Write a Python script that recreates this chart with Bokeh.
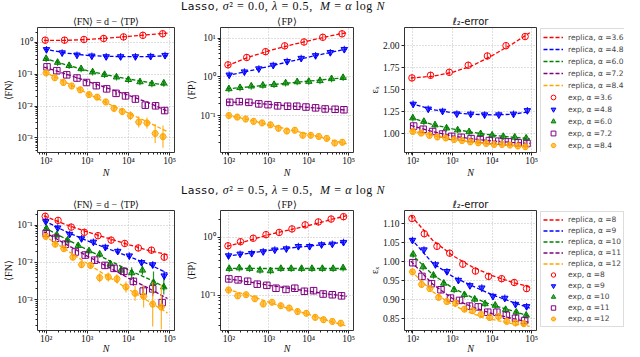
import math
from bokeh.plotting import figure
from bokeh.layouts import row, column
from bokeh.models import (Range1d, FixedTicker, Legend, LegendItem, Div, Spacer,
                          CustomJSTickFormatter, PrintfTickFormatter)
from bokeh.embed import file_html
from bokeh.resources import INLINE

SERIF = "Liberation Serif"
SANS = "DejaVu Sans"

COLORS = ["red", "blue", "green", "purple", "orange"]
MARKERS = ["circle", "inverted_triangle", "triangle", "square", "hex"]
FILLED = [False, True, True, False, True]

X_RANGE = (10 ** 1.79, 10 ** 5.12)
X_TICKS = [1e2, 1e3, 1e4, 1e5]

# N positions at which the replica curves were read
LINE_N = [89, 316, 1000, 3162, 10000, 31623, 89125]

# ---------------- top row: sigma^2 = 0.0 ----------------
TOP_ALPHA = ["3.6", "4.8", "6.0", "7.2", "8.4"]
TOP_N = [
    [95, 280, 830, 2500, 7600, 22400, 68000],
    [102, 245, 562, 1290, 2880, 6460, 14800, 34700, 77600],
    [100, 190, 363, 708, 1350, 2630, 5130, 10000, 19100, 37200, 72400],
    [105, 182, 316, 562, 955, 1660, 2950, 5010, 8510, 14800, 25700, 45700, 75900],
    [100, 162, 263, 417, 676, 1100, 1740, 2820, 4470, 7080, 11200, 17800, 28200, 44700, 69200],
]
TOP_FN_EXP = [
    [1.17, 1.17, 1.23, 1.32, 1.48, 1.66, 1.86],
    [0.596, 0.473, 0.403, 0.376, 0.357, 0.357, 0.357, 0.365, 0.392],
    [0.309, 0.234, 0.186, 0.148, 0.117, 0.0977, 0.0813, 0.0676, 0.0575, 0.0501, 0.0525],
    [0.170, 0.129, 0.0955, 0.0759, 0.0550, 0.0437, 0.0347, 0.0251, 0.0209, 0.0166, 0.0107, 0.0102, 0.00724],
    [0.110, 0.0776, 0.0550, 0.0427, 0.0324, 0.0229, 0.0191, 0.0135, 0.00851, 0.00676, 0.00501, 0.00316, 0.00295, 0.00138, 0.00110],
]
# error bar half-widths in decades
TOP_FN_ERR = [
    [0.01, 0.01, 0.01, 0.01, 0.01, 0.01, 0.01],
    [0.02, 0.02, 0.02, 0.02, 0.02, 0.02, 0.02, 0.02, 0.02],
    [0.02, 0.02, 0.02, 0.02, 0.03, 0.03, 0.03, 0.04, 0.04, 0.05, 0.05],
    [0.02, 0.02, 0.03, 0.03, 0.03, 0.04, 0.04, 0.05, 0.05, 0.06, 0.07, 0.08, 0.09],
    [0.02, 0.02, 0.03, 0.03, 0.04, 0.04, 0.05, 0.06, 0.10, 0.12, 0.14, 0.17, 0.17, 0.30, 0.35],
]
TOP_FN_REP = [
    [1.16, 1.16, 1.23, 1.36, 1.53, 1.74, 1.95],
    [0.617, 0.457, 0.389, 0.363, 0.355, 0.359, 0.380],
    [0.316, 0.195, 0.129, 0.0933, 0.0708, 0.0550, 0.0437],
    [0.166, 0.100, 0.0603, 0.0363, 0.0219, 0.0126, 0.00692],
    [0.120, 0.0537, 0.0251, 0.0120, 0.00603, 0.00302, 0.00158],
]
TOP_FP_EXP = [
    [2.04, 3.16, 4.47, 6.31, 7.94, 10.5, 12.9],
    [1.12, 1.35, 1.62, 2.0, 2.51, 3.02, 3.55, 4.27, 5.13],
    [0.490, 0.525, 0.575, 0.603, 0.631, 0.692, 0.741, 0.759, 0.794, 0.891, 0.955],
    [0.219, 0.229, 0.219, 0.200, 0.191, 0.178, 0.174, 0.174, 0.166, 0.158, 0.148, 0.145, 0.141],
    [0.100, 0.0912, 0.0813, 0.0708, 0.0646, 0.0575, 0.0468, 0.0398, 0.0417, 0.0309, 0.0309, 0.0288, 0.0257, 0.0195, 0.0204],
]
TOP_FP_REP = [
    [1.91, 3.24, 4.68, 6.46, 8.51, 11.2, 13.8],
    [1.07, 1.41, 1.86, 2.45, 3.24, 4.17, 5.25],
    [0.490, 0.550, 0.617, 0.692, 0.776, 0.871, 0.955],
    [0.224, 0.214, 0.195, 0.178, 0.162, 0.148, 0.138],
    [0.102, 0.0776, 0.0575, 0.0437, 0.0331, 0.0245, 0.0186],
]
TOP_L2_EXP = [
    [1.636, 1.666, 1.70, 1.78, 1.886, 2.003, 2.107],
    [1.338, 1.283, 1.258, 1.228, 1.225, 1.217, 1.217, 1.225, 1.265],
    [1.18, 1.14, 1.10, 1.065, 1.043, 1.022, 1.0, 0.984, 0.969, 0.96, 0.95],
    [1.088, 1.052, 1.026, 0.997, 0.971, 0.96, 0.945, 0.934, 0.923, 0.916, 0.908, 0.897, 0.89],
    [1.026, 1.008, 0.982, 0.964, 0.953, 0.934, 0.923, 0.908, 0.897, 0.89, 0.879, 0.879, 0.872, 0.861, 0.853],
]
TOP_L2_REP = [
    [1.635, 1.655, 1.70, 1.775, 1.89, 2.02, 2.15],
    [1.345, 1.275, 1.24, 1.222, 1.215, 1.222, 1.25],
    [1.185, 1.105, 1.055, 1.017, 0.985, 0.962, 0.945],
    [1.095, 1.025, 0.975, 0.942, 0.918, 0.902, 0.89],
    [1.035, 0.98, 0.937, 0.905, 0.88, 0.865, 0.85],
]

# ---------------- bottom row: sigma^2 = 0.5 ----------------
BOT_ALPHA = ["8", "9", "10", "11", "12"]
BOT_N = [
    [95, 195, 407, 851, 1820, 3800, 8130, 17400, 36300, 74100],
    [98, 191, 372, 724, 1410, 2750, 5500, 10500, 20900, 38900, 74100],
    [102, 182, 331, 603, 1100, 2000, 3630, 6610, 12000, 21900, 40700, 72400],
    [100, 170, 295, 513, 891, 1510, 2690, 4470, 7760, 13200, 22900, 38900, 66100],
    [98, 166, 269, 447, 724, 1200, 2000, 3240, 5250, 8710, 14500, 23400, 38900, 63100],
]
BOT_FN_EXP = [
    [0.174, 0.135, 0.0891, 0.0646, 0.0525, 0.0398, 0.0324, 0.0245, 0.0214, 0.0138],
    [0.126, 0.0851, 0.0575, 0.0437, 0.0355, 0.0257, 0.0200, 0.0151, 0.0100, 0.00871, 0.00437],
    [0.0813, 0.0550, 0.0398, 0.0282, 0.0204, 0.0166, 0.00912, 0.00617, 0.00525, 0.00617, 0.00288, 0.00219],
    [0.0603, 0.0447, 0.0309, 0.0191, 0.0158, 0.0115, 0.00832, 0.00692, 0.00575, 0.00309, 0.00170, 0.00195, 0.000832],
    [0.0501, 0.0309, 0.0234, 0.0138, 0.00871, 0.00832, 0.00389, 0.00407, 0.00363, 0.00219, 0.00148, 0.00123, 0.000759, 0.000631],
]
BOT_FN_ERR = [
    [0.02, 0.02, 0.02, 0.02, 0.02, 0.03, 0.03, 0.03, 0.04, 0.06],
    [0.02, 0.02, 0.03, 0.03, 0.03, 0.04, 0.04, 0.05, 0.07, 0.08, 0.12],
    [0.03, 0.03, 0.03, 0.04, 0.04, 0.05, 0.10, 0.10, 0.15, 0.12, 0.30, 0.20],
    [0.03, 0.03, 0.04, 0.05, 0.05, 0.06, 0.08, 0.10, 0.12, 0.12, 0.15, 0.20, 0.20],
    [0.03, 0.03, 0.04, 0.06, 0.08, 0.08, 0.12, 0.12, 0.12, 0.15, 0.20, 0.30, 0.60, 0.60],
]
BOT_FN_REP = [
    [0.178, 0.102, 0.0661, 0.0447, 0.0302, 0.0209, 0.0162],
    [0.132, 0.0661, 0.0380, 0.0234, 0.0145, 0.00891, 0.00513],
    [0.0871, 0.0417, 0.0219, 0.0117, 0.00631, 0.00355, 0.00200],
    [0.0661, 0.0302, 0.0148, 0.00759, 0.00380, 0.00200, 0.00107],
    [0.0525, 0.0214, 0.00933, 0.00417, 0.00191, 0.000891, 0.000437],
]
BOT_FP_EXP = [
    [0.708, 0.832, 0.955, 1.10, 1.20, 1.38, 1.62, 1.82, 2.04, 2.24],
    [0.479, 0.513, 0.525, 0.562, 0.603, 0.631, 0.692, 0.692, 0.741, 0.759, 0.813],
    [0.288, 0.295, 0.288, 0.269, 0.263, 0.288, 0.288, 0.288, 0.288, 0.288, 0.288, 0.295],
    [0.191, 0.184, 0.174, 0.155, 0.148, 0.132, 0.126, 0.132, 0.117, 0.120, 0.105, 0.102, 0.0977],
    [0.123, 0.0977, 0.102, 0.0871, 0.0708, 0.0759, 0.0661, 0.0603, 0.0525, 0.0490, 0.0417, 0.0380, 0.0355, 0.0331],
]
BOT_FP_REP = [
    [0.692, 0.871, 1.10, 1.32, 1.58, 1.95, 2.34],
    [0.468, 0.525, 0.589, 0.646, 0.700, 0.759, 0.832],
    [0.290, 0.289, 0.288, 0.288, 0.288, 0.288, 0.288],
    [0.191, 0.170, 0.148, 0.132, 0.117, 0.105, 0.0955],
    [0.126, 0.100, 0.0759, 0.0589, 0.0468, 0.0363, 0.0295],
]
BOT_L2_EXP = [
    [1.112, 1.072, 1.039, 1.021, 0.992, 0.974, 0.960, 0.954, 0.944, 0.928],
    [1.055, 1.030, 0.991, 0.973, 0.950, 0.936, 0.930, 0.908, 0.903, 0.887, 0.881],
    [1.018, 0.985, 0.963, 0.942, 0.925, 0.912, 0.900, 0.888, 0.884, 0.873, 0.866, 0.858],
    [0.996, 0.960, 0.941, 0.925, 0.903, 0.897, 0.882, 0.880, 0.866, 0.866, 0.858, 0.850, 0.844],
    [0.972, 0.939, 0.928, 0.905, 0.894, 0.890, 0.874, 0.870, 0.860, 0.852, 0.855, 0.842, 0.838, 0.836],
]
BOT_L2_REP = [
    [1.12, 1.055, 1.015, 0.985, 0.962, 0.945, 0.932],
    [1.06, 0.995, 0.96, 0.935, 0.912, 0.893, 0.877],
    [1.02, 0.965, 0.93, 0.905, 0.885, 0.87, 0.855],
    [1.0, 0.94, 0.902, 0.88, 0.862, 0.85, 0.839],
    [0.975, 0.92, 0.885, 0.862, 0.847, 0.836, 0.829],
]

# axis ranges and ticks
TOP_FN_YR = (3.5e-4, 2.92)
TOP_FP_YR = (0.0111, 18.8)
TOP_L2_YR = (0.787, 2.21)
BOT_FN_YR = (1.48e-4, 0.249)
BOT_FP_YR = (0.0248, 2.86)
BOT_L2_YR = (0.818, 1.133)
TOP_FN_YT = [1e-3, 1e-2, 1e-1, 1e0]
TOP_FP_YT = [1e-1, 1e0, 1e1]
TOP_L2_YT = [1.0, 1.25, 1.5, 1.75, 2.0]
BOT_FN_YT = [1e-3, 1e-2, 1e-1]
BOT_FP_YT = [1e-1, 1e0]
BOT_L2_YT = [0.85, 0.90, 0.95, 1.00, 1.05, 1.10]

TITLE_FN = "\u27e8FN\u27e9 = d \u2212 \u27e8TP\u27e9"
TITLE_FP = "\u27e8FP\u27e9"
TITLE_L2 = "\u2113\u2082-error"
SUP_TOP = ("<span style='font-family:DejaVu Sans;font-size:11px'>Lasso,</span> "
           "<i>\u03c3</i>\u00b2 = 0.0, <i>\u03bb</i> = 0.5, &nbsp;<i>M</i> = <i>\u03b1</i> log <i>N</i>")
SUP_BOT = ("<span style='font-family:DejaVu Sans;font-size:11px'>Lasso,</span> "
           "<i>\u03c3</i>\u00b2 = 0.5, <i>\u03bb</i> = 0.5, &nbsp;<i>M</i> = <i>\u03b1</i> log <i>N</i>")


def log_minor(k0, k1):
    return [m * 10.0 ** k for k in range(k0, k1) for m in range(2, 10)]


def log_formatter():
    return CustomJSTickFormatter(code="""
const sup = {"-": "\u207b", "0": "\u2070", "1": "\u00b9", "2": "\u00b2", "3": "\u00b3",
             "4": "\u2074", "5": "\u2075", "6": "\u2076", "7": "\u2077", "8": "\u2078", "9": "\u2079"};
const e = Math.round(Math.log10(tick)).toString();
return "10" + e.split("").map(c => sup[c]).join("");
""")


def make_fig(w, h, bl, br, bt, bb, yr, log_y, yticks, ylabel, title, title_font,
             xlab_standoff):
    p = figure(width=w, height=h, x_axis_type="log",
               y_axis_type="log" if log_y else "linear",
               x_range=Range1d(*X_RANGE), y_range=Range1d(*yr),
               output_backend="svg", toolbar_location=None,
               min_border_left=bl, min_border_right=br,
               min_border_top=bt, min_border_bottom=bb)
    p.outline_line_color = "#333333"
    p.outline_line_width = 1
    p.background_fill_color = "white"
    p.border_fill_color = "white"

    xt = FixedTicker(ticks=X_TICKS, minor_ticks=log_minor(1, 6))
    if log_y:
        k0 = int(math.floor(math.log10(yr[0])))
        k1 = int(math.ceil(math.log10(yr[1])))
        yt = FixedTicker(ticks=yticks, minor_ticks=log_minor(k0, k1))
    else:
        yt = FixedTicker(ticks=yticks, minor_ticks=[])
    p.xaxis.ticker = xt
    p.yaxis.ticker = yt
    p.xgrid.ticker = xt
    p.ygrid.ticker = yt
    p.xaxis.formatter = log_formatter()
    p.yaxis.formatter = log_formatter() if log_y else PrintfTickFormatter(format="%.2f")

    for ax in (p.xaxis[0], p.yaxis[0]):
        ax.axis_line_color = None
        ax.major_tick_out = 3
        ax.major_tick_in = 0
        ax.minor_tick_out = 2
        ax.minor_tick_in = 0
        ax.major_tick_line_color = "#222222"
        ax.minor_tick_line_color = "#222222"
        ax.major_label_text_font = SERIF
        ax.major_label_text_font_size = "9.5px"
        ax.major_label_text_color = "#111111"
        ax.axis_label_text_font = SERIF
        ax.axis_label_text_font_size = "10px"
        ax.axis_label_text_color = "#111111"
    p.xaxis.major_label_standoff = 0
    p.yaxis.major_label_standoff = 2
    p.xaxis.axis_label = "N"
    p.xaxis.axis_label_text_font_style = "italic"
    p.xaxis.axis_label_standoff = xlab_standoff
    p.yaxis.axis_label = ylabel
    p.yaxis.axis_label_text_font_style = "normal"
    p.yaxis.axis_label_standoff = 0

    for g in (p.xgrid, p.ygrid):
        g.grid_line_color = "#b0b0b0"
        g.grid_line_dash = "1 2"
        g.grid_line_width = 0.8

    p.title.text = title
    p.title.text_font = title_font
    p.title.text_font_size = "10px"
    p.title.text_font_style = "normal"
    p.title.align = "center"
    p.title.standoff = 1
    p.title.text_color = "#111111"
    return p


def draw(p, ns, exp, rep, err, with_dash=True):
    line_rs, mark_rs = [], []
    for i in range(5):
        c = COLORS[i]
        lr = p.line(LINE_N, rep[i], line_color=c, line_dash="4 2", line_width=1.3)
        if err is not None:
            lo = [y * 10 ** (-e) for y, e in zip(exp[i], err[i])]
            hi = [y * 10 ** e for y, e in zip(exp[i], err[i])]
            p.segment(ns[i], lo, ns[i], hi, line_color=c, line_width=1.2, line_alpha=0.85)
        if with_dash:
            p.scatter(ns[i], exp[i], marker="dash", angle=math.pi / 2, size=7,
                      line_color=c, line_width=1.1, line_alpha=0.85)
        mr = p.scatter(ns[i], exp[i], marker=MARKERS[i], size=6.5, line_color=c,
                       line_width=1.0,
                       fill_color=c if FILLED[i] else None, fill_alpha=0.65)
        line_rs.append(lr)
        mark_rs.append(mr)
    return line_rs, mark_rs


def legend_fig(w, h, bt, bb, ns, exp, rep, alphas, row_h):
    # a separate panel holding only the legend; its glyphs lie outside its ranges
    p = figure(width=w, height=h, title=None, x_axis_type="log",
               x_range=Range1d(1e7, 1e8), y_range=Range1d(100, 200),
               x_axis_location=None, y_axis_location=None,
               output_backend="svg", toolbar_location=None,
               min_border_left=0, min_border_right=0,
               min_border_top=bt, min_border_bottom=bb)
    p.grid.visible = False
    p.outline_line_color = None
    p.background_fill_color = "white"
    p.border_fill_color = "white"
    line_rs, mark_rs = draw(p, ns, exp, rep, None, with_dash=False)
    items = [LegendItem(label="replica, \u03b1 =" + a, renderers=[line_rs[i]])
             for i, a in enumerate(alphas)]
    items += [LegendItem(label="exp, \u03b1 =" + a, renderers=[mark_rs[i]])
              for i, a in enumerate(alphas)]
    leg = Legend(items=items, location="top_left")
    leg.label_text_font = SANS
    leg.label_text_font_size = "7.5px"
    leg.label_height = row_h
    leg.glyph_height = row_h
    leg.glyph_width = 20
    leg.spacing = 0
    leg.padding = 2
    leg.margin = 1
    leg.label_standoff = 5
    leg.border_line_color = "#bbbbbb"
    leg.border_line_width = 1
    leg.background_fill_alpha = 1.0
    p.add_layout(leg)
    return p


def sup_row(text, h, lh):
    d = Div(text=text, width=300, height=h, margin=(0, 0, 0, 0),
            styles={"text-align": "center", "font-family": SERIF,
                    "font-size": "12px", "line-height": lh, "white-space": "nowrap",
                    "letter-spacing": "0.6px", "color": "#111111"})
    return row(Spacer(width=133, height=h, margin=(0, 0, 0, 0)), d)


def make_row(ns, fn_exp, fn_err, fn_rep, fp_exp, fp_rep, l2_exp, l2_rep,
             fn_yr, fp_yr, l2_yr, fn_yt, fp_yt, l2_yt, alphas,
             h, bt, bb, xstand, leg_bt, leg_bb, row_h):
    f1 = make_fig(183, h, 33, 9, bt, bb, fn_yr, True, fn_yt, "\u27e8FN\u27e9",
                  TITLE_FN, SERIF, xstand)
    draw(f1, ns, fn_exp, fn_rep, fn_err)
    f2 = make_fig(182, h, 30, 12, bt, bb, fp_yr, True, fp_yt, "\u27e8FP\u27e9",
                  TITLE_FP, SERIF, xstand)
    draw(f2, ns, fp_exp, fp_rep, None)
    f3 = make_fig(174, h, 31, 3, bt, bb, l2_yr, False, l2_yt, "\u03b5\u2093",
                  TITLE_L2, SANS, xstand)
    draw(f3, ns, l2_exp, l2_rep, None)
    f4 = legend_fig(85, h, leg_bt, leg_bb, ns, l2_exp, l2_rep, alphas, row_h)
    return row(f1, f2, f3, f4)


top = make_row(TOP_N, TOP_FN_EXP, TOP_FN_ERR, TOP_FN_REP, TOP_FP_EXP, TOP_FP_REP,
               TOP_L2_EXP, TOP_L2_REP, TOP_FN_YR, TOP_FP_YR, TOP_L2_YR,
               TOP_FN_YT, TOP_FP_YT, TOP_L2_YT, TOP_ALPHA,
               168, 14, 25, -2, 15, 10, 12)
bot = make_row(BOT_N, BOT_FN_EXP, BOT_FN_ERR, BOT_FN_REP, BOT_FP_EXP, BOT_FP_REP,
               BOT_L2_EXP, BOT_L2_REP, BOT_FN_YR, BOT_FP_YR, BOT_L2_YR,
               BOT_FN_YT, BOT_FP_YT, BOT_L2_YT, BOT_ALPHA,
               160, 12, 20, -4, 6, 2, 11)

p = column(sup_row(SUP_TOP, 12, "13px"), top, sup_row(SUP_BOT, 16, "20px"), bot)
open("out.html", "w").write(file_html(p, INLINE, title="Lasso replica vs experiments"))
